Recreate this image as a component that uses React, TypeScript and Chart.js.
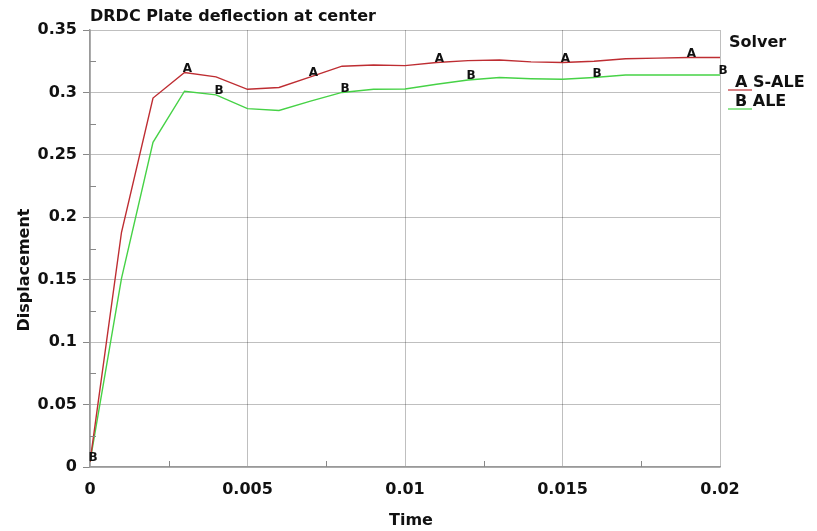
import React, { useEffect, useRef } from "react";
import { Chart, registerables } from "chart.js";

Chart.register(...registerables);

const times = [0, 0.001, 0.002, 0.003, 0.004, 0.005, 0.006, 0.007, 0.008, 0.009, 0.01, 0.011, 0.012, 0.013, 0.014, 0.015, 0.016, 0.017, 0.018, 0.019, 0.02];
const sAle = [0.004, 0.188, 0.2955, 0.316, 0.3125, 0.3025, 0.304, 0.3125, 0.321, 0.322, 0.3215, 0.324, 0.3255, 0.326, 0.3245, 0.324, 0.325, 0.327, 0.3275, 0.328, 0.328];
const ale = [0.004, 0.151, 0.26, 0.301, 0.298, 0.287, 0.2855, 0.293, 0.3, 0.3025, 0.3027, 0.3065, 0.31, 0.312, 0.311, 0.3105, 0.312, 0.314, 0.314, 0.314, 0.314];
const markerA = [3, 7, 11, 15, 19];
const markerB = [0, 4, 8, 12, 16, 20];
const seriesNames = ["S-ALE", "ALE"];
const seriesLetters = ["A", "B"];
const title = "DRDC Plate deflection at center";
const legendTitle = "Solver";
const xTitle = "Time";
const yTitle = "Displacement";

const RED = "rgb(190,45,50)";
const GREEN = "rgb(70,210,70)";
const FONT = '"DejaVu Sans", sans-serif';

const decorPlugin = {
  id: "decor",
  afterDatasetsDraw(chart: any) {
    const ctx = chart.ctx;
    const ca = chart.chartArea;
    const xs = chart.scales.x;
    const ys = chart.scales.y;
    ctx.save();
    // minor ticks
    ctx.strokeStyle = "#888";
    ctx.lineWidth = 1;
    for (let v = 0.025; v < 0.35; v += 0.05) {
      const y = Math.round(ys.getPixelForValue(v)) + 0.5;
      ctx.beginPath();
      ctx.moveTo(ca.left, y);
      ctx.lineTo(ca.left + 6, y);
      ctx.stroke();
    }
    for (let v = 0.0025; v < 0.02; v += 0.005) {
      const x = Math.round(xs.getPixelForValue(v)) + 0.5;
      ctx.beginPath();
      ctx.moveTo(x, ca.bottom);
      ctx.lineTo(x, ca.bottom - 6);
      ctx.stroke();
    }
    // curve letters
    ctx.fillStyle = "#111";
    ctx.font = "bold 12px " + FONT;
    ctx.textAlign = "center";
    ctx.textBaseline = "middle";
    const markers = [markerA, markerB];
    chart.data.datasets.forEach((ds: any, di: number) => {
      const meta = chart.getDatasetMeta(di);
      markers[di].forEach((idx) => {
        const p = meta.data[idx];
        ctx.fillText(seriesLetters[di], p.x + 3, p.y - 4);
      });
    });
    // title
    ctx.textAlign = "left";
    ctx.font = "bold 16px " + FONT;
    ctx.fillText(title, 90, 17);
    // legend
    ctx.fillText(legendTitle, 729, 43);
    const colors = [RED, GREEN];
    const ly = [83, 102];
    for (let i = 0; i < 2; i++) {
      ctx.fillStyle = "#111";
      ctx.fillText(seriesLetters[i] + " " + seriesNames[i], 735, ly[i]);
      ctx.strokeStyle = colors[i];
      ctx.lineWidth = 1.2;
      ctx.beginPath();
      ctx.moveTo(728, ly[i] + 7);
      ctx.lineTo(752, ly[i] + 7);
      ctx.stroke();
    }
    // axis titles
    ctx.fillStyle = "#111";
    ctx.font = "bold 16px " + FONT;
    ctx.textAlign = "center";
    ctx.fillText(xTitle, 411, 521);
    ctx.save();
    ctx.translate(25, 270);
    ctx.rotate(-Math.PI / 2);
    ctx.fillText(yTitle, 0, 0);
    ctx.restore();
    ctx.restore();
  },
};

export default function App() {
  const ref = useRef<HTMLCanvasElement>(null);
  useEffect(() => {
    if (!ref.current) return;
    const fmt = (v: any) => String(+Number(v).toFixed(4));
    const chart = new Chart(ref.current, {
      type: "line",
      data: {
        datasets: [
          {
            label: seriesNames[0],
            data: times.map((t, i) => ({ x: t, y: sAle[i] })),
            borderColor: RED,
            borderWidth: 1.4,
            pointRadius: 0,
            tension: 0,
          },
          {
            label: seriesNames[1],
            data: times.map((t, i) => ({ x: t, y: ale[i] })),
            borderColor: GREEN,
            borderWidth: 1.4,
            pointRadius: 0,
            tension: 0,
          },
        ],
      },
      options: {
        responsive: false,
        animation: false,
        devicePixelRatio: 1,
        layout: { padding: { top: 30, right: 97, left: 0, bottom: 0 } },
        plugins: { legend: { display: false }, title: { display: false }, tooltip: { enabled: false } },
        scales: {
          x: {
            type: "linear",
            min: 0,
            max: 0.02,
            afterFit: (s: any) => { s.height = 64; },
            ticks: { stepSize: 0.005, callback: fmt, color: "#111", font: { family: FONT, size: 16, weight: "bold" }, padding: 13, maxRotation: 0 },
            grid: { color: "rgba(0,0,0,0.25)", drawTicks: false, lineWidth: 1 },
            border: { color: "#999", width: 1.5 },
          },
          y: {
            type: "linear",
            min: 0,
            max: 0.35,
            afterFit: (s: any) => { s.width = 90; },
            ticks: { stepSize: 0.05, callback: fmt, color: "#111", font: { family: FONT, size: 16, weight: "bold" }, padding: 6 },
            grid: { color: "rgba(0,0,0,0.25)", tickLength: 7, tickColor: "#888", lineWidth: 1 },
            border: { color: "#999", width: 1.5 },
          },
        },
      },
      plugins: [decorPlugin],
    } as any);
    return () => chart.destroy();
  }, []);
  return (
    <div style={{ position: "absolute", left: 0, top: 0, width: 817, height: 531, background: "#fff" }}>
      <canvas ref={ref} width={817} height={531} />
    </div>
  );
}
